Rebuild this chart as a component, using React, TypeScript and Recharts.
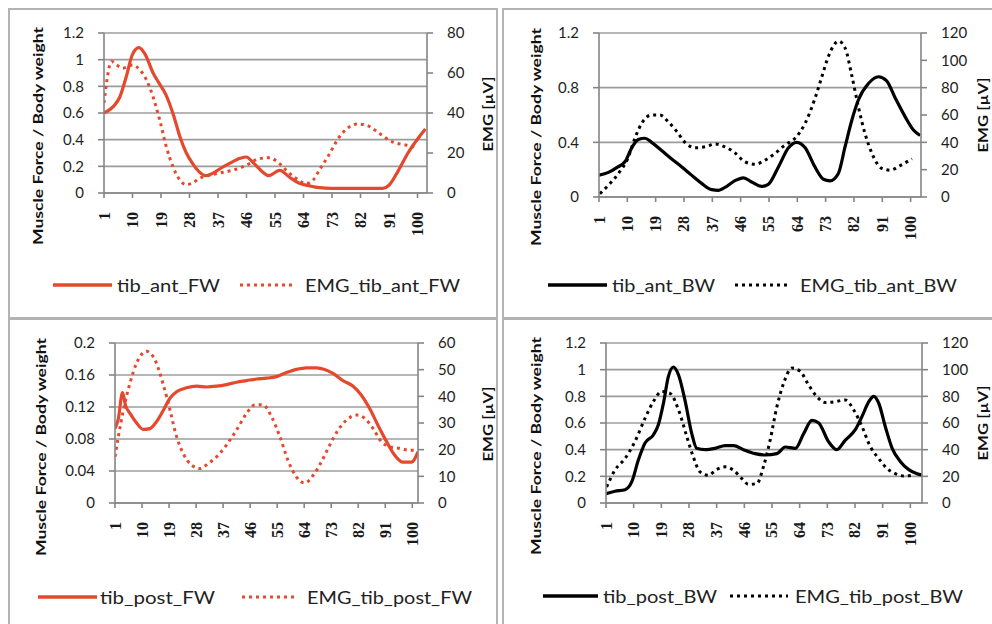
import React from 'react';
import { LineChart, Line, XAxis, YAxis, CartesianGrid } from 'recharts';

const FONT = 'Lato, "Open Sans", sans-serif';
const SERIF = '"Liberation Serif", "DejaVu Serif", serif';
const RED = '#E5482C';
const BLACK = '#000000';
const AXIS = '#858585';
const GRID = '#9c9c9c';

const xTicks = [1, 10, 19, 28, 37, 46, 55, 64, 73, 82, 91, 100];

// ---- Panel 1: tib_ant_FW ----
const tibAntFwX = [1, 4, 6, 8, 10, 12, 14, 16.5, 18.5, 20.5, 23, 25, 27, 29, 31, 33, 35.5, 37.5, 40.5, 44, 46, 48, 51, 53, 56.5, 59.5, 62.5, 66, 69, 73, 78, 84, 89, 91, 94, 97, 100.5, 102.5];
const tibAntFwY = [0.6, 0.65, 0.72, 0.87, 1.04, 1.09, 1.04, 0.9, 0.82, 0.74, 0.58, 0.42, 0.3, 0.22, 0.16, 0.13, 0.15, 0.18, 0.22, 0.26, 0.27, 0.23, 0.16, 0.13, 0.17, 0.12, 0.075, 0.053, 0.04, 0.035, 0.035, 0.035, 0.035, 0.058, 0.17, 0.3, 0.42, 0.48];
const emgTibAntFwX = [1, 3.4, 5, 7, 10, 12.3, 14.4, 16.5, 18.6, 20.7, 22.8, 25, 27, 29, 31, 34.4, 37.5, 41.7, 46, 50, 53.3, 56.4, 58.5, 61.7, 64.8, 67, 69, 72, 75.3, 78.4, 81, 83.7, 88, 92, 96.3, 99.4];
const emgTibAntFwY = [45, 65.8, 64, 62.4, 64, 61.6, 56.6, 48, 36.5, 23, 13, 6.4, 4.2, 5, 7.2, 8.9, 10, 11.4, 13.9, 17.2, 17.6, 14.7, 11.4, 7.2, 4.7, 6.4, 11.4, 19, 28, 33, 34.5, 34, 29.8, 25.6, 24, 23];

// ---- Panel 2: tib_ant_BW ----
const tibAntBwX = [1, 4, 7, 9.3, 11.4, 13.5, 15.6, 17.7, 20.9, 24, 27.3, 30.4, 33.6, 36.8, 39, 41, 44.2, 46.9, 49.5, 52.7, 54.8, 58, 61.2, 63.8, 66.5, 69.6, 72.3, 74.4, 77, 79.2, 81.3, 83.4, 86.6, 89.8, 92.4, 95, 98.2, 100.9, 103];
const tibAntBwY = [0.16, 0.18, 0.22, 0.26, 0.36, 0.42, 0.43, 0.4, 0.34, 0.28, 0.22, 0.16, 0.1, 0.054, 0.049, 0.07, 0.12, 0.14, 0.11, 0.078, 0.093, 0.22, 0.36, 0.4, 0.36, 0.22, 0.13, 0.118, 0.17, 0.37, 0.56, 0.71, 0.83, 0.88, 0.85, 0.73, 0.59, 0.49, 0.45];
const emgTibAntBwX = [1.3, 4, 7.1, 10.3, 12.4, 14.6, 17.7, 20.4, 23, 25.7, 28.3, 31.5, 34.7, 37.9, 41, 44.2, 47.4, 50.6, 53.8, 56.9, 60.1, 63.3, 66.5, 69.6, 71.8, 73.9, 77.1, 79.2, 81.3, 83.4, 85.5, 87.7, 90.8, 93.5, 96.7, 100.4];
const emgTibAntBwY = [2.4, 8.6, 17, 29, 43, 54, 60, 60, 55, 48, 40, 36, 36.7, 38.7, 36.7, 32.3, 25.7, 24, 27, 31.8, 38, 43, 54, 72, 88, 103, 114, 109, 89, 66, 46.5, 32, 21, 19.6, 23, 28];

// ---- Panel 3: tib_post_FW ----
const tibPostFwX = [1, 2.1, 3.5, 4.5, 6, 8.2, 10.4, 12.6, 14.9, 17.1, 19.3, 21.5, 24.8, 28.2, 31.5, 34.8, 38.1, 41.5, 44.8, 48.1, 51.4, 54.8, 58.1, 61.4, 64.7, 68.1, 70.8, 73.6, 76.9, 80.3, 83, 85.8, 88.6, 91.4, 94.1, 96.9, 99.7, 101.9];
const tibPostFwY = [0.093, 0.105, 0.138, 0.122, 0.112, 0.1, 0.092, 0.093, 0.102, 0.116, 0.131, 0.139, 0.144, 0.146, 0.145, 0.146, 0.148, 0.151, 0.153, 0.155, 0.156, 0.158, 0.163, 0.167, 0.169, 0.169, 0.167, 0.162, 0.153, 0.146, 0.135, 0.118, 0.097, 0.077, 0.06, 0.051, 0.051, 0.064];
const emgTibPostFwX = [1, 2.1, 3.8, 6, 8.2, 11.5, 14.3, 17.1, 19.3, 21.5, 23.7, 26.5, 29.3, 32, 34.8, 38.1, 41.5, 44.8, 47.6, 50.3, 53.1, 55.9, 58.6, 61.4, 64.2, 67, 69.7, 72.5, 75.3, 78.1, 81.4, 84.1, 86.9, 89.7, 92.5, 95.8, 99.1, 101.3];
const emgTibPostFwY = [17.3, 24.8, 34.9, 45, 52.5, 56.9, 53.7, 44.3, 34.9, 24.9, 18.6, 14.2, 12.9, 14.8, 17.3, 21.7, 27.4, 33.6, 36.8, 36.8, 32.4, 24.9, 16, 9.8, 7.5, 10.4, 15.4, 21.7, 27.4, 31.1, 33, 31.8, 28, 23, 21.1, 20.5, 19.8, 19.8];

// ---- Panel 4: tib_post_BW ----
const tibPostBwX = [1, 3.9, 7.2, 9.4, 11.5, 13.7, 16.4, 18, 19.7, 21.3, 22.9, 24.6, 26.7, 28.9, 30.5, 33.2, 36.5, 39.8, 42.5, 45.7, 49.5, 52.8, 56.6, 59.3, 62.6, 65.3, 68, 70.2, 73.4, 76.1, 78.8, 82.1, 84.3, 86.5, 88.1, 89.7, 91.9, 94.1, 96.8, 99.5, 102.2, 103.8];
const tibPostBwY = [0.07, 0.088, 0.1, 0.16, 0.32, 0.45, 0.51, 0.585, 0.75, 0.95, 1.02, 0.96, 0.77, 0.52, 0.41, 0.4, 0.41, 0.43, 0.43, 0.4, 0.37, 0.36, 0.37, 0.42, 0.41, 0.52, 0.62, 0.6, 0.46, 0.4, 0.47, 0.55, 0.65, 0.76, 0.8, 0.75, 0.57, 0.41, 0.31, 0.25, 0.22, 0.21];
const emgTibPostBwX = [1.2, 3.9, 7.2, 10.4, 13.7, 16.4, 19.1, 21.8, 24.6, 27.3, 29.4, 31.6, 34.3, 37, 39.8, 42.5, 45.2, 47.4, 50.1, 52.2, 54.4, 56.6, 58.8, 61.5, 64.2, 66.9, 69.6, 72.3, 75.6, 78.8, 81.6, 84.3, 87, 89.7, 92.4, 95.1, 97.8, 100.6];
const emgTibPostBwY = [12, 24.6, 33.4, 46, 63.5, 76, 83.6, 82.3, 69.8, 49.7, 34.6, 23.3, 20.8, 25.1, 27.1, 24.6, 18.3, 14, 14.6, 27.1, 47.2, 72.3, 89.9, 101.2, 98.7, 88.6, 79.8, 75.3, 76, 77.3, 69.8, 57.2, 42.2, 33.4, 25.9, 22.1, 20.3, 20.8];

// axis ticks
const forceTicks12x02 = [0, 0.2, 0.4, 0.6, 0.8, 1, 1.2];
const forceTicks12x04 = [0, 0.4, 0.8, 1.2];
const forceTicks02 = [0, 0.04, 0.08, 0.12, 0.16, 0.2];
const emgTicks80 = [0, 20, 40, 60, 80];
const emgTicks120 = [0, 20, 40, 60, 80, 100, 120];
const emgTicks60 = [0, 10, 20, 30, 40, 50, 60];

const zip = (xs: number[], ys: number[]) => xs.map((x, i) => ({ x, y: ys[i] }));

const XTick = (props: any) => {
  const { x, y, payload } = props;
  return (
    <text
      x={x}
      y={y}
      transform={`rotate(-90 ${x} ${y})`}
      textAnchor="end"
      dominantBaseline="central"
      fontSize={16}
      fontWeight="bold"
      fill="#1a1a1a"
      fontFamily={SERIF}
    >
      {payload.value}
    </text>
  );
};

type PanelProps = {
  left: number; top: number; w: number; h: number;
  plotLeft: number; plotRight: number; plotTop: number; plotBottom: number;
  xMax: number;
  lDomain: [number, number]; lTicks: number[];
  rDomain: [number, number]; rTicks: number[];
  solid: { x: number; y: number }[];
  dotted: { x: number; y: number }[];
  color: string;
  solidName: string; dottedName: string;
};

function Panel(p: PanelProps) {
  const xAxisH = 60;
  const margin = {
    top: p.plotTop - p.top,
    right: 0,
    left: 0,
    bottom: p.top + p.h - p.plotBottom - xAxisH,
  };
  const tickStyle = { fontSize: 15, fill: '#1e1e1e', fontFamily: FONT };
  return (
    <div style={{ position: 'absolute', left: p.left, top: p.top, width: p.w, height: p.h }}>
      <LineChart width={p.w} height={p.h} margin={margin}>
        <CartesianGrid yAxisId="l" vertical={false} stroke={GRID} strokeWidth={1.6} />
        <XAxis
          type="number"
          dataKey="x"
          domain={[1, p.xMax]}
          allowDataOverflow
          ticks={xTicks}
          interval={0}
          height={xAxisH}
          tickSize={5}
          tickMargin={14}
          axisLine={{ stroke: AXIS, strokeWidth: 1.6 }}
          tickLine={{ stroke: AXIS, strokeWidth: 1.6 }}
          tick={<XTick />}
        />
        <YAxis
          yAxisId="l"
          orientation="left"
          width={p.plotLeft - p.left}
          domain={p.lDomain}
          allowDataOverflow
          ticks={p.lTicks}
          interval={0}
          tickSize={6}
          tickMargin={14}
          axisLine={{ stroke: AXIS, strokeWidth: 1.6 }}
          tickLine={{ stroke: AXIS, strokeWidth: 1.6 }}
          tick={tickStyle}
        />
        <YAxis
          yAxisId="r"
          orientation="right"
          width={p.left + p.w - p.plotRight}
          domain={p.rDomain}
          allowDataOverflow
          ticks={p.rTicks}
          interval={0}
          tickSize={6}
          tickMargin={14}
          axisLine={{ stroke: AXIS, strokeWidth: 1.6 }}
          tickLine={{ stroke: AXIS, strokeWidth: 1.6 }}
          tick={{ ...tickStyle, textAnchor: 'start' }}
        />
        <Line
          yAxisId="l"
          data={p.solid}
          dataKey="y"
          name={p.solidName}
          type="monotone"
          stroke={p.color}
          strokeWidth={3.2}
          dot={false}
          isAnimationActive={false}
        />
        <Line
          yAxisId="r"
          data={p.dotted}
          dataKey="y"
          name={p.dottedName}
          type="monotone"
          stroke={p.color}
          strokeWidth={3}
          strokeDasharray="3 4"
          dot={false}
          isAnimationActive={false}
        />
      </LineChart>
    </div>
  );
}

type LegendSpec = {
  y: number; color: string;
  s1: number; s2: number; sText: number; sLen: number; sLabel: string;
  d1: number; d2: number; dText: number; dLen: number; dLabel: string;
};

const legends: LegendSpec[] = [
  { y: 285, color: RED, s1: 53, s2: 112, sText: 117, sLen: 103, sLabel: 'tib_ant_FW', d1: 240, d2: 295, dText: 305, dLen: 155, dLabel: 'EMG_tib_ant_FW' },
  { y: 285, color: BLACK, s1: 548, s2: 607, sText: 612, sLen: 103, sLabel: 'tib_ant_BW', d1: 735, d2: 790, dText: 800, dLen: 157, dLabel: 'EMG_tib_ant_BW' },
  { y: 597, color: RED, s1: 38, s2: 97, sText: 100, sLen: 115, sLabel: 'tib_post_FW', d1: 242, d2: 297, dText: 307, dLen: 165, dLabel: 'EMG_tib_post_FW' },
  { y: 596, color: BLACK, s1: 543, s2: 598, sText: 603, sLen: 114, sLabel: 'tib_post_BW', d1: 730, d2: 788, dText: 795, dLen: 168, dLabel: 'EMG_tib_post_BW' },
];

const leftTitles = [
  { x: 37, y: 136 },
  { x: 535, y: 137 },
  { x: 40, y: 447 },
  { x: 535, y: 446 },
];
const rightTitles = [
  { x: 487, y: 114 },
  { x: 982, y: 115 },
  { x: 487, y: 424 },
  { x: 982, y: 423 },
];

export default function App() {
  return (
    <div style={{ position: 'absolute', left: 0, top: 0, width: 992, height: 624, overflow: 'hidden', background: '#fff', fontFamily: FONT }}>
      <Panel
        left={10} top={10} w={486} h={307}
        plotLeft={104} plotRight={427} plotTop={33} plotBottom={193}
        xMax={103}
        lDomain={[0, 1.2]} lTicks={forceTicks12x02}
        rDomain={[0, 80]} rTicks={emgTicks80}
        solid={zip(tibAntFwX, tibAntFwY)}
        dotted={zip(emgTibAntFwX, emgTibAntFwY)}
        color={RED}
        solidName="tib_ant_FW" dottedName="EMG_tib_ant_FW"
      />
      <Panel
        left={505} top={10} w={487} h={307}
        plotLeft={599} plotRight={921} plotTop={33} plotBottom={197}
        xMax={103.3}
        lDomain={[0, 1.2]} lTicks={forceTicks12x04}
        rDomain={[0, 120]} rTicks={emgTicks120}
        solid={zip(tibAntBwX, tibAntBwY)}
        dotted={zip(emgTibAntBwX, emgTibAntBwY)}
        color={BLACK}
        solidName="tib_ant_BW" dottedName="EMG_tib_ant_BW"
      />
      <Panel
        left={10} top={321} w={486} h={303}
        plotLeft={115} plotRight={418} plotTop={343} plotBottom={503}
        xMax={101.9}
        lDomain={[0, 0.2]} lTicks={forceTicks02}
        rDomain={[0, 60]} rTicks={emgTicks60}
        solid={zip(tibPostFwX, tibPostFwY)}
        dotted={zip(emgTibPostFwX, emgTibPostFwY)}
        color={RED}
        solidName="tib_post_FW" dottedName="EMG_tib_post_FW"
      />
      <Panel
        left={505} top={321} w={487} h={303}
        plotLeft={606} plotRight={922} plotTop={343} plotBottom={503}
        xMax={103.8}
        lDomain={[0, 1.2]} lTicks={forceTicks12x02}
        rDomain={[0, 120]} rTicks={emgTicks120}
        solid={zip(tibPostBwX, tibPostBwY)}
        dotted={zip(emgTibPostBwX, emgTibPostBwY)}
        color={BLACK}
        solidName="tib_post_BW" dottedName="EMG_tib_post_BW"
      />
      <svg width={992} height={624} style={{ position: 'absolute', left: 0, top: 0, pointerEvents: 'none' }}>
        <g fill="none" stroke="#b3b3b3" strokeWidth={2}>
          <rect x={9} y={9} width={488} height={309} />
          <rect x={503} y={9} width={600} height={309} />
          <rect x={9} y={319} width={488} height={400} />
          <rect x={503} y={319} width={600} height={400} />
        </g>
        {leftTitles.map((t, i) => (
          <text
            key={'lt' + i}
            x={t.x}
            y={t.y}
            transform={`rotate(-90 ${t.x} ${t.y})`}
            textAnchor="middle"
            dominantBaseline="central"
            fontSize={14}
            fontWeight="bold"
            fill="#111"
            fontFamily={FONT}
            textLength={218}
            lengthAdjust="spacingAndGlyphs"
          >
            Muscle Force / Body weight
          </text>
        ))}
        {rightTitles.map((t, i) => (
          <text
            key={'rt' + i}
            x={t.x}
            y={t.y}
            transform={`rotate(-90 ${t.x} ${t.y})`}
            textAnchor="middle"
            dominantBaseline="central"
            fontSize={14}
            fontWeight="bold"
            fill="#111"
            fontFamily={FONT}
            textLength={75}
            lengthAdjust="spacingAndGlyphs"
          >
            EMG [µV]
          </text>
        ))}
        {legends.map((l, i) => (
          <g key={'lg' + i}>
            <line x1={l.s1} x2={l.s2} y1={l.y} y2={l.y} stroke={l.color} strokeWidth={3.5} />
            <text x={l.sText} y={l.y} dominantBaseline="central" fontSize={17} fill="#222" fontFamily={FONT} textLength={l.sLen} lengthAdjust="spacingAndGlyphs">
              {l.sLabel}
            </text>
            <line x1={l.d1} x2={l.d2} y1={l.y} y2={l.y} stroke={l.color} strokeWidth={3} strokeDasharray="3 4" />
            <text x={l.dText} y={l.y} dominantBaseline="central" fontSize={17} fill="#222" fontFamily={FONT} textLength={l.dLen} lengthAdjust="spacingAndGlyphs">
              {l.dLabel}
            </text>
          </g>
        ))}
      </svg>
    </div>
  );
}
